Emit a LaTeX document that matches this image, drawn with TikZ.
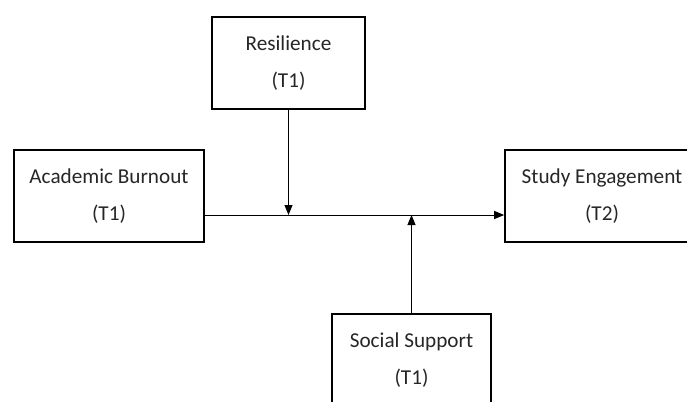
\documentclass[tikz,border=0pt]{standalone}
\usepackage{fontspec}
\setmainfont{Carlito}
\usetikzlibrary{arrows.meta}

\tikzset{
	varbox/.style={draw, line width=1.6pt, align=center, inner sep=0pt,
		minimum height=92pt, text=black!85,
		font=\fontsize{21.2pt}{37pt}\selectfont},
	path/.style={line width=0.9pt, -{Triangle[length=10pt,width=8pt]}}
}

\begin{document}
\begin{tikzpicture}[x=1pt, y=-1pt]
	    \useasboundingbox (0, 0) rectangle (687, 401);
	    
	    \node[varbox, minimum width=153pt] at (288.5, 63) (resil) {Resilience\\(T1)};
	    \node[varbox, minimum width=190pt] at (109, 196) (burnout) {Academic Burnout\\(T1)};
	    \node[varbox, minimum width=194pt] at (602, 196) (engage) {Study Engagement\\(T2)};
	    \node[varbox, minimum width=159pt] at (411.5, 360) (support) {Social Support\\(T1)};
	    
	    \coordinate (start) at ([yshift=-19pt]burnout.east);
	    
	    \draw[path] (start) -- (start -| engage.west);
	    \draw[path] (resil.south) -- (resil.south |- start);
	    \draw[path] (support.north) -- (support.north |- start);
	    
	    \end{tikzpicture}
\end{document}
